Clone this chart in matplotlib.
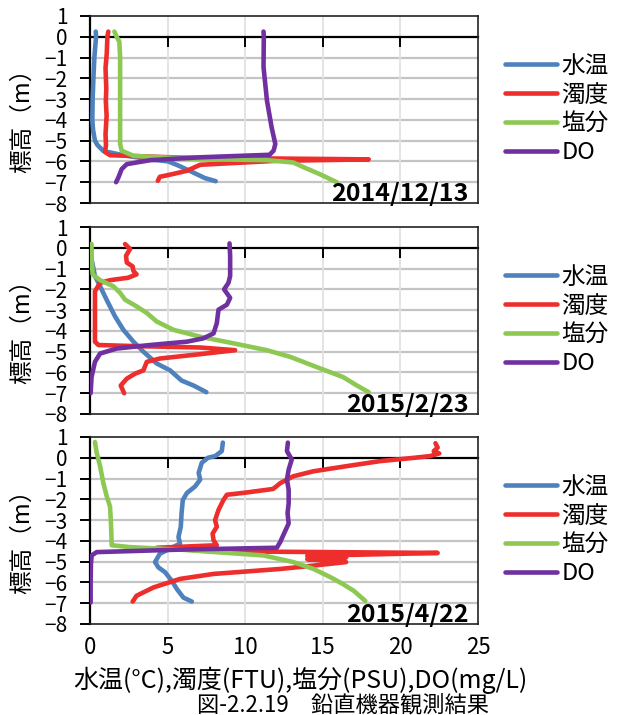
import matplotlib
matplotlib.use("Agg")
import matplotlib.pyplot as plt

plt.rcParams['font.family'] = ['Noto Sans CJK JP', 'DejaVu Sans']
plt.rcParams['axes.unicode_minus'] = True

# ---------------- data ----------------
series_names = ['水温', '濁度', '塩分', 'DO']
series_colors = ['#4F81BD', '#EE2D2D', '#8DC853', '#7030A0']
dates = ['2014/12/13', '2015/2/23', '2015/4/22']
x_ticks = [0, 5, 10, 15, 20, 25]
y_ticks = [-8, -7, -6, -5, -4, -3, -2, -1, 0, 1]

# Panel 1 : 2014/12/13
p1_temp_x = [0.37, 0.39, 0.28, 0.22, 0.17, 0.15, 0.2, 0.32, 0.47, 0.86, 2.15, 3.87, 5.05, 5.7, 6.56, 7.4, 8.1]
p1_temp_z = [0.25, 0, -1, -2, -3, -4, -4.5, -5, -5.2, -5.5, -5.7, -5.9, -6.0, -6.2, -6.5, -6.8, -6.95]
p1_turb_x = [1.18, 1.12, 1.08, 1.0, 1.05, 1.02, 1.07, 1.0, 1.03, 0.97, 1.29, 6.0, 17.96, 12.0, 7.1, 6.24, 5.38, 4.5, 4.37]
p1_turb_z = [0.25, 0, -0.8, -1.5, -2.5, -3.1, -3.8, -4.7, -5.2, -5.55, -5.7, -5.82, -5.9, -5.97, -6.16, -6.45, -6.6, -6.74, -6.93]
p1_sal_x = [1.57, 1.72, 1.89, 1.94, 1.94, 1.94, 2.04, 2.8, 4.5, 7.1, 11.4, 13.1, 13.8, 14.8, 15.9]
p1_sal_z = [0.25, 0, -0.24, -0.97, -3.06, -5.16, -5.48, -5.73, -5.8, -5.89, -5.94, -6.05, -6.29, -6.61, -7.0]
p1_do_x = [11.18, 11.2, 11.18, 11.4, 11.7, 11.94, 11.83, 11.57, 7.1, 3.87, 2.37, 2.04, 1.83, 1.68]
p1_do_z = [0.25, 0, -1.45, -3.06, -4.35, -5.16, -5.48, -5.68, -5.8, -5.94, -6.13, -6.37, -6.77, -7.0]

# Panel 2 : 2015/2/23
p2_temp_x = [0.04, 0.1, 0.32, 0.65, 1.07, 1.61, 2.15, 2.8, 3.44, 4.3, 5.16, 5.9, 6.67, 7.5]
p2_temp_z = [0.18, -0.55, -1.36, -1.85, -2.5, -3.3, -3.95, -4.52, -5.0, -5.57, -5.9, -6.39, -6.63, -6.95]
p2_turb_x = [2.26, 2.58, 2.32, 2.37, 2.75, 2.8, 3.0, 2.47, 1.29, 0.65, 0.32, 0.32, 0.32, 0.54, 2.8, 7.1, 9.35, 7.1, 4.5, 3.66, 3.44, 2.9, 2.37, 1.98, 2.2]
p2_turb_z = [0.18, -0.06, -0.39, -0.71, -0.9, -1.12, -1.28, -1.44, -1.56, -1.69, -2.09, -2.98, -4.52, -4.68, -4.73, -4.8, -4.93, -5.12, -5.33, -5.49, -5.9, -6.06, -6.3, -6.63, -7.0]
p2_sal_x = [0.1, 0.1, 0.17, 0.65, 1.5, 1.94, 2.26, 3.0, 3.66, 4.3, 5.38, 7.1, 9.25, 11.4, 12.9, 14.6, 16.3, 17.2, 17.96]
p2_sal_z = [0.18, -0.55, -1.28, -1.56, -1.85, -2.17, -2.5, -2.82, -3.14, -3.55, -3.95, -4.28, -4.6, -4.93, -5.25, -5.74, -6.22, -6.63, -6.95]
p2_do_x = [8.99, 9.03, 9.03, 8.92, 8.64, 9.03, 8.82, 8.28, 8.17, 7.96, 7.3, 6.24, 3.87, 1.72, 0.65, 0.32, 0.1, 0.04]
p2_do_z = [0.21, -0.39, -1.36, -1.69, -2.0, -2.41, -2.74, -2.98, -3.63, -4.12, -4.36, -4.52, -4.68, -4.85, -5.09, -5.49, -6.22, -7.0]

# Panel 3 : 2015/4/22
p3_temp_x = [8.56, 8.49, 8.06, 7.6, 7.2, 7.0, 7.1, 6.77, 6.24, 5.98, 5.9, 5.85, 5.7, 5.8, 4.5, 4.19, 4.4, 4.84, 5.27, 5.6, 6.02, 6.56]
p3_temp_z = [0.73, 0.32, 0.08, 0, -0.24, -0.73, -1.05, -1.38, -1.7, -2.03, -2.67, -3.32, -3.81, -4.13, -4.62, -5.02, -5.27, -5.51, -5.92, -6.32, -6.73, -6.92]
p3_turb_x = [22.26, 22.4, 22.15, 22.5, 21.9, 20.9, 18.7, 16.56, 14.4, 13.1, 12.26, 11.8, 10.1, 8.82, 8.6, 8.28, 8.06, 8.17, 7.9, 7.96, 8.17, 4.3, 8.0, 22.4, 14.0, 16.5, 14.0, 16.5, 14.4, 12.26, 7.96, 5.8, 4.09, 3.0, 2.75]
p3_turb_z = [0.7, 0.49, 0.32, 0.21, 0.08, 0, -0.16, -0.4, -0.65, -0.89, -1.22, -1.5, -1.67, -1.78, -2.03, -2.51, -3.0, -3.32, -3.65, -3.97, -4.21, -4.33, -4.5, -4.58, -4.72, -4.8, -4.88, -5.02, -5.19, -5.35, -5.59, -5.83, -6.24, -6.64, -6.92]
p3_sal_x = [0.32, 0.43, 0.65, 0.86, 1.08, 1.29, 1.35, 1.4, 2.58, 5.8, 9.03, 11.18, 13.1, 14.4, 15.5, 16.3, 16.99, 17.74]
p3_sal_z = [0.76, 0.24, -0.4, -1.22, -1.86, -2.35, -3.16, -4.21, -4.3, -4.42, -4.59, -4.7, -5.02, -5.35, -5.75, -6.08, -6.4, -6.89]
p3_do_x = [12.75, 12.69, 13.0, 12.8, 12.69, 12.8, 12.8, 12.73, 12.8, 12.5, 12.26, 12.04, 5.8, 0.43, 0.11, 0.06, 0.04, 0.04]
p3_do_z = [0.73, 0.32, -0.08, -0.57, -1.05, -1.54, -2.19, -2.67, -3.16, -3.65, -4.05, -4.33, -4.42, -4.54, -4.7, -5.1, -5.92, -6.97]

x_label = '水温(°C),濁度(FTU),塩分(PSU),DO(mg/L)'
y_label = '標高（m）'
caption = '図-2.2.19　鉛直機器観測結果'

panels = [
    [(p1_temp_x, p1_temp_z), (p1_turb_x, p1_turb_z), (p1_sal_x, p1_sal_z), (p1_do_x, p1_do_z)],
    [(p2_temp_x, p2_temp_z), (p2_turb_x, p2_turb_z), (p2_sal_x, p2_sal_z), (p2_do_x, p2_do_z)],
    [(p3_temp_x, p3_temp_z), (p3_turb_x, p3_turb_z), (p3_sal_x, p3_sal_z), (p3_do_x, p3_do_z)],
]

# ---------------- figure ----------------
W, H = 618, 715
fig = plt.figure(figsize=(W / 100, H / 100), dpi=100)

ax_left, ax_right = 90, 478
tops = [16, 227, 437]
ax_h = 187

for i, (series, date) in enumerate(zip(panels, dates)):
    top = tops[i]
    ax = fig.add_axes([ax_left / W, 1 - (top + ax_h) / H, (ax_right - ax_left) / W, ax_h / H])
    ax.set_xlim(x_ticks[0], x_ticks[-1])
    ax.set_ylim(y_ticks[0], y_ticks[-1])
    ax.set_yticks(y_ticks)
    ax.set_xticks(x_ticks)
    # grid
    for yv in y_ticks[1:-1]:
        if yv != 0:
            ax.axhline(yv, color='#c4c4c4', lw=1.6, zorder=0)
    for xv in x_ticks[1:-1]:
        ax.axvline(xv, color='#e2e2e2', lw=1.3, zorder=0)

    for (xs, zs), name, col in zip(series, series_names, series_colors):
        ax.plot(xs, zs, color=col, lw=3.3, label=name,
                solid_capstyle='round', solid_joinstyle='round', zorder=3)

    for side in ['top', 'right', 'bottom']:
        ax.spines[side].set_color('#222222')
        ax.spines[side].set_linewidth(1.2)
    ax.spines['left'].set_linewidth(1.6)
    ax.tick_params(axis='y', direction='out', length=7, width=1.4, pad=9, labelsize=15)
    ax.tick_params(axis='x', length=0, pad=9, labelsize=16)
    if i < 2:
        ax.tick_params(axis='x', labelbottom=False)

    # x-axis line at y = 0 with ticks pointing down
    sec = ax.secondary_xaxis((0 - y_ticks[0]) / (y_ticks[-1] - y_ticks[0]))
    sec.set_xticks(x_ticks[1:-1])
    sec.set_xticklabels([])
    sec.spines['top'].set_linewidth(1.6)
    sec.spines['top'].set_color('black')
    sec.tick_params(axis='x', direction='in', length=7, width=1.4)

    ax.set_ylabel(y_label, fontsize=17)
    ax.yaxis.label.set_verticalalignment('center')
    ax.yaxis.set_label_coords(-0.175, 0.47)

    ax.text(0.975, 0.012, date, transform=ax.transAxes, ha='right', va='baseline',
            fontsize=18, fontweight='bold', color='black', zorder=5)

    ax.legend(loc='center left', bbox_to_anchor=(1.045, 0.5), frameon=False,
              prop={'size': 17}, handlelength=2.2, handletextpad=0.2, labelspacing=0.25,
              borderaxespad=0)

fig.text(300 / W, 1 - 680 / H, x_label, ha='center', va='center', fontsize=18)
fig.text(343 / W, 1 - 705 / H, caption, ha='center', va='center', fontsize=16)

fig.savefig('out.png', dpi=100)
